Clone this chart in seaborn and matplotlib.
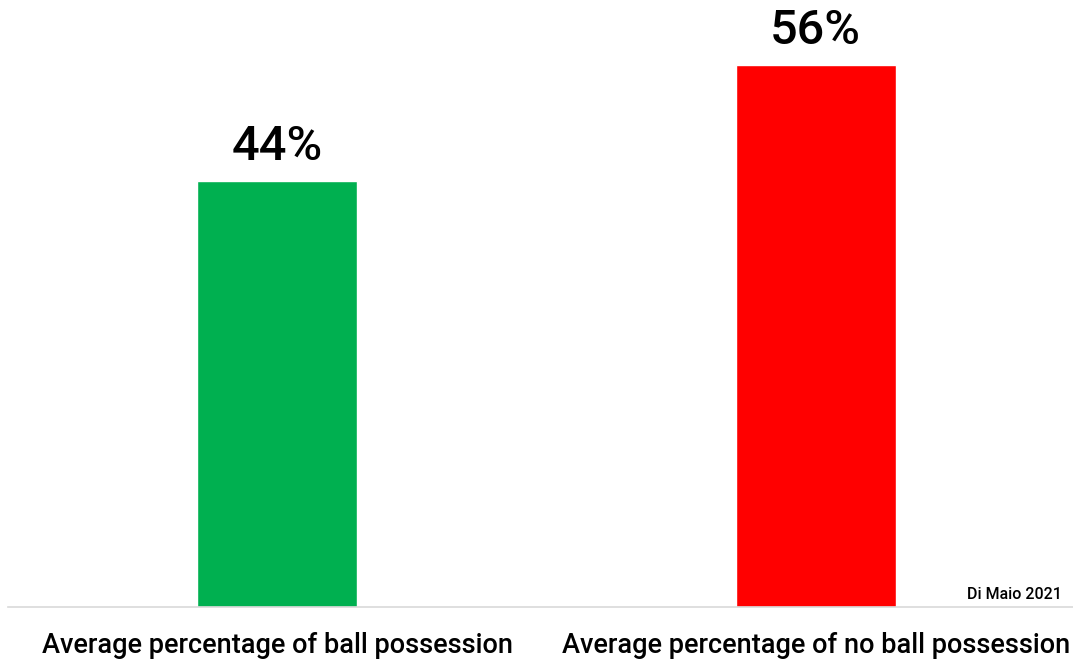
import matplotlib
matplotlib.use("Agg")
import matplotlib.pyplot as plt
import seaborn as sns
import pandas as pd

categories = ["Average percentage of ball possession",
              "Average percentage of no ball possession"]
values = [44, 56]
bar_colors = ["#00B050", "#FF0000"]
value_labels = ["44%", "56%"]
credit = "Di Maio 2021"

sns.set_theme(style="white")
plt.rcParams["font.family"] = ["Roboto", "DejaVu Sans"]

df = pd.DataFrame({"category": categories, "value": values})

fig = plt.figure(figsize=(10.73, 6.61), dpi=100)
ax = fig.add_axes([8 / 1073, 54 / 661, 1065 / 1073, 607 / 661])

sns.barplot(data=df, x="category", y="value", hue="category",
            palette=bar_colors, width=0.297, saturation=1,
            legend=False, ax=ax)

ax.set_xlim(-0.5, 1.478)
ax.set_ylim(0, 62.7)

for i, (v, lab) in enumerate(zip(values, value_labels)):
    ax.annotate(lab, (i, v), xytext=(0, 8), textcoords="offset points",
                ha="center", va="bottom", fontsize=35, fontweight="medium",
                color="black")

for s in ["top", "right", "left"]:
    ax.spines[s].set_visible(False)
ax.spines["bottom"].set_color("#d9d9d9")
ax.spines["bottom"].set_linewidth(1.2)

ax.set_yticks([])
ax.set_xlabel("")
ax.set_ylabel("")
ax.tick_params(axis="x", length=0, pad=18, labelsize=19.5, colors="black")
for t in ax.get_xticklabels():
    t.set_fontweight("medium")

ax.text(0.9897, 0.008, credit, transform=ax.transAxes, ha="right", va="bottom",
        fontsize=11.5, fontweight="medium", color="black")

fig.savefig("out.png", dpi=100)
